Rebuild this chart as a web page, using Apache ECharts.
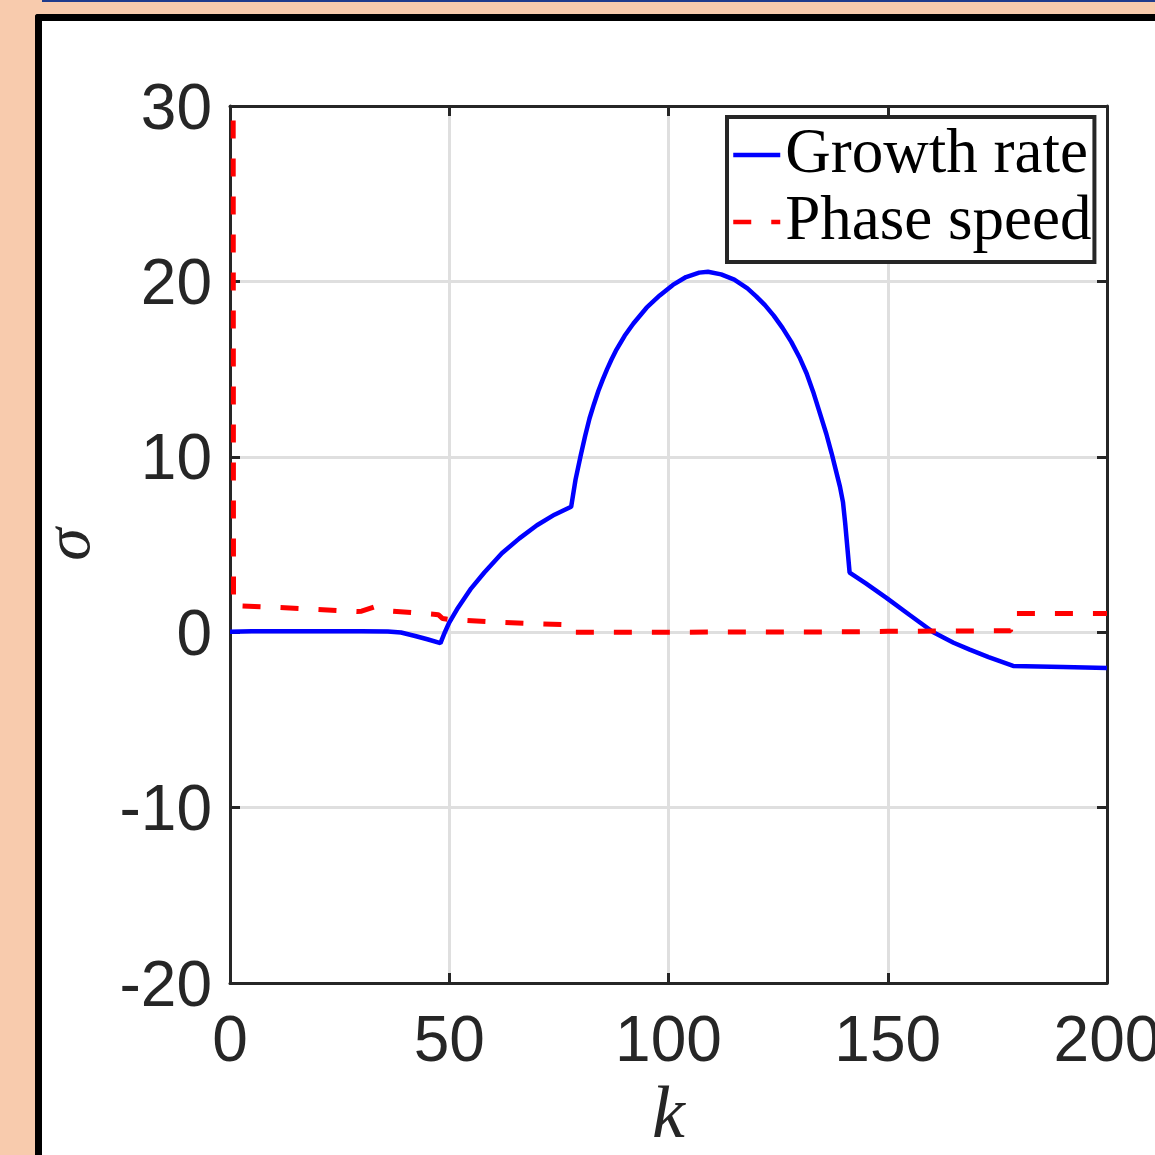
<!DOCTYPE html>
<html>
<head>
<meta charset="utf-8">
<script src="https://cdn.jsdelivr.net/npm/echarts@6/dist/echarts.min.js"></script>
<style>
  html, body { margin: 0; padding: 0; }
  body { width: 1155px; height: 1155px; background: #F8CBAD; position: relative; overflow: hidden; }
  #topline { position: absolute; left: 42px; top: 0; width: 1113px; height: 2px; background: #1F3B8C; }
  #frame { position: absolute; left: 35px; top: 14px; right: -10px; bottom: -10px;
           border-left: 7px solid #000; border-top: 7px solid #000; border-top-left-radius: 3px; background: #fff; }
  #chart { position: absolute; left: 0; top: 0; width: 1155px; height: 1155px; }
</style>
</head>
<body>
<div id="topline"></div>
<div id="frame"></div>
<div id="chart"></div>
<script>
// growth rate (blue, solid)
const kGrowth = [0, 5, 10, 20, 30, 36, 39, 42, 45, 48, 49, 50, 52, 55, 58, 62, 66, 70, 74, 77.8,
  78.8, 80, 81, 82, 83, 84, 85, 86, 87, 88, 90, 92, 95, 98, 101, 104, 107, 109, 112, 115, 118, 120, 122, 124, 126, 128,
  130, 131.5, 133, 134.5, 136, 137.2, 138.3, 139.1, 139.8, 140.3, 140.8, 141.3, 145, 149.7, 155, 160.4, 165, 168.7, 173, 178.6, 190, 200]
const growth = [0.03, 0.05, 0.05, 0.06, 0.05, 0.04, -0.02, -0.2, -0.4, -0.62, 0.0, 0.55, 1.4, 2.5, 3.4, 4.5, 5.35, 6.1, 6.7, 7.15,
  8.7, 10.1, 11.2, 12.2, 13.0, 13.75, 14.4, 15.0, 15.55, 16.05, 16.9, 17.6, 18.5, 19.2, 19.8, 20.25, 20.5, 20.55, 20.4, 20.1, 19.6, 19.15, 18.65, 18.05, 17.35, 16.55,
  15.6, 14.75, 13.7, 12.5, 11.3, 10.2, 9.1, 8.3, 7.4, 6.2, 4.8, 3.4, 2.78, 1.96, 0.98, 0.0, -0.6, -0.99, -1.42, -1.92, -1.98, -2.04]

// phase speed (red, dashed)
const kPhase = [0.7, 0.8, 10, 20, 29, 30, 33, 37, 45, 47.5, 48.5, 50, 60, 70, 77.3, 77.8, 100, 140, 150, 178, 178.6, 200]
const phase = [40, 1.52, 1.42, 1.3, 1.18, 1.2, 1.45, 1.2, 1.05, 1.0, 0.78, 0.72, 0.59, 0.48, 0.42, 0.0, 0.0, 0.02, 0.05, 0.08, 1.07, 1.07]

const xTicks = { min: 0, max: 200, interval: 50 }
const yTicks = { min: -20, max: 30, interval: 10 }

const dark = '#262626'

function pairs (xs, ys) {
  return xs.map((x, i) => [x, ys[i]])
}

const lineCommon = {
  show: true,
  onZero: false,
  lineStyle: { color: dark, width: 3 }
}
const tickCommon = {
  show: true,
  inside: true,
  length: 10,
  lineStyle: { color: dark, width: 3 }
}
const labelCommon = {
  fontSize: 64,
  color: dark,
  fontFamily: 'Liberation Sans'
}
const gridLine = { show: true, lineStyle: { color: '#dfdfdf', width: 3 } }

const chart = echarts.init(document.getElementById('chart'), null, { renderer: 'canvas' })

const option = {
  backgroundColor: 'transparent',
  animation: false,
  grid: { left: 230, right: 48, top: 106, bottom: 172, containLabel: false, outerBoundsMode: 'none' },
  xAxis: [
    {
      type: 'value', position: 'bottom', ...xTicks,
      axisLine: lineCommon, axisTick: tickCommon,
      axisLabel: { ...labelCommon, margin: 28 },
      splitLine: gridLine,
      name: 'k', nameLocation: 'middle', nameGap: 98,
      nameTextStyle: { fontFamily: 'Liberation Serif', fontStyle: 'italic', fontSize: 74, color: dark }
    },
    {
      type: 'value', position: 'top', ...xTicks,
      axisLine: lineCommon, axisTick: tickCommon,
      axisLabel: { show: false }, splitLine: { show: false }
    }
  ],
  yAxis: [
    {
      type: 'value', position: 'left', ...yTicks,
      axisLine: lineCommon, axisTick: tickCommon,
      axisLabel: {
        margin: 18,
        formatter: v => '{t|' + v + '}',
        rich: { t: { ...labelCommon, padding: [10, 0, 0, 0] } }
      },
      splitLine: gridLine,
      name: 'σ', nameLocation: 'middle', nameGap: 125,
      nameTextStyle: { fontFamily: 'Liberation Serif', fontStyle: 'italic', fontSize: 66, color: dark }
    },
    {
      type: 'value', position: 'right', ...yTicks,
      axisLine: lineCommon, axisTick: tickCommon,
      axisLabel: { show: false }, splitLine: { show: false }
    }
  ],
  legend: {
    orient: 'vertical',
    left: 727, top: 117,
    backgroundColor: '#fff',
    borderColor: dark,
    borderWidth: 4,
    borderRadius: 0,
    padding: [6, 3, 8, 4],
    itemWidth: 47,
    itemHeight: 14,
    itemGap: 3,
    itemStyle: { opacity: 0 },
    lineStyle: { width: 4.5 },
    textStyle: { fontFamily: 'Liberation Serif', fontSize: 63, lineHeight: 64, color: '#000' },
    data: ['Growth rate', 'Phase speed']
  },
  series: [
    {
      name: 'Growth rate',
      type: 'line',
      showSymbol: false,
      symbol: 'none',
      clip: true,
      lineStyle: { color: '#0000ff', width: 4.5 },
      itemStyle: { color: '#0000ff' },
      data: pairs(kGrowth, growth)
    },
    {
      name: 'Phase speed',
      type: 'line',
      showSymbol: false,
      symbol: 'none',
      clip: true,
      lineStyle: { color: '#ff0000', width: 5, type: [18, 20] },
      itemStyle: { color: '#ff0000' },
      data: pairs(kPhase, phase)
    }
  ]
}

chart.setOption(option)
</script>
</body>
</html>
